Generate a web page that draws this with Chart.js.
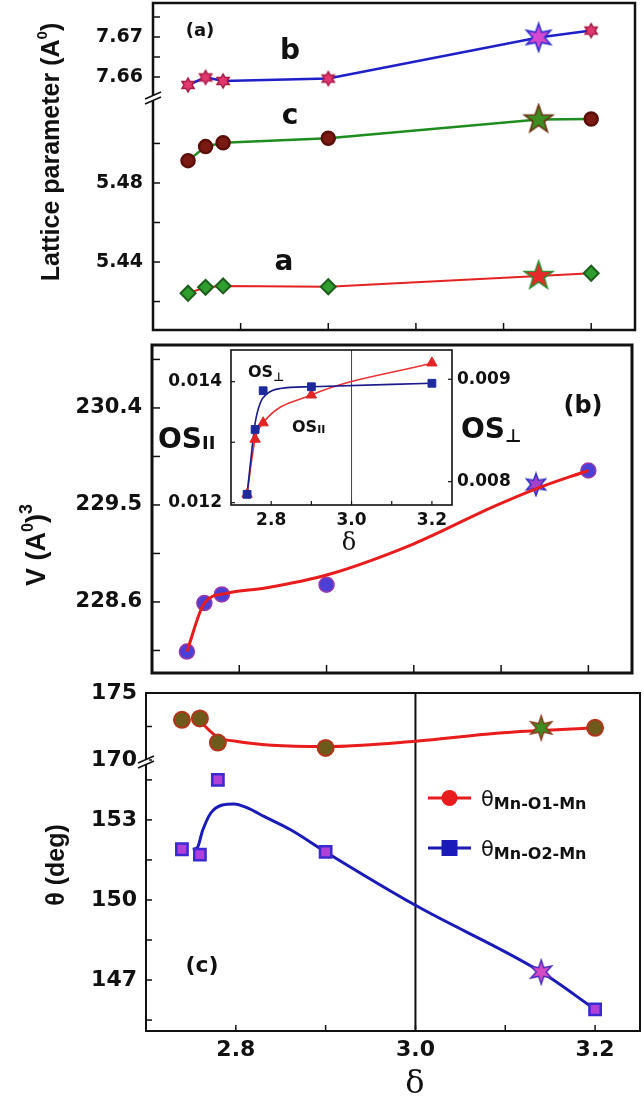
<!DOCTYPE html>
<html>
<head>
<meta charset="utf-8">
<script src="https://cdn.jsdelivr.net/npm/chart.js@4.4.1/dist/chart.umd.min.js"></script>
<style>
  body { margin: 0; background: #fff; }
  #wrap { position: relative; width: 644px; height: 1100px; overflow: hidden; background: #fff; }
  canvas { position: absolute; }
</style>
</head>
<body>
<div id="wrap">
  <canvas id="panelA" width="644" height="338" style="left:0;top:0"></canvas>
  <canvas id="panelB" width="644" height="352" style="left:0;top:338px"></canvas>
  <canvas id="inset" width="390" height="225" style="left:150px;top:340px"></canvas>
  <canvas id="panelC" width="644" height="424" style="left:0;top:676px"></canvas>
</div>
<script>
// ---- values ----
const delta = [2.74, 2.76, 2.78, 2.90, 3.14, 3.20];

// (a) lattice parameters
const latB = [7.6580, 7.6599, 7.6590, 7.6596, 7.6699, 7.6716];
const latC = [5.4913, 5.4984, 5.5004, 5.5026, 5.5121, 5.5124];
const latA = [5.4242, 5.4272, 5.4279, 5.4275, 5.4329, 5.4343];

// (b) volume + fitted curve
const vol = [228.14, 228.59, 228.67, 228.76, 229.69, 229.82];
const volFitX = [2.74, 2.76, 2.785, 2.83, 2.90, 3.00, 3.09, 3.14, 3.20];
const volFitY = [228.14, 228.59, 228.68, 228.73, 228.85, 229.14, 229.48, 229.65, 229.82];

// inset of (b)
const insX = [2.74, 2.76, 2.78, 2.90, 3.20];
const osPar = [0.01214, 0.01305, 0.01332, 0.01378, 0.01431];
const osPerp = [0.007876, 0.00851, 0.008888, 0.008927, 0.008961];
const osPerpFitX = [2.74, 2.752, 2.76, 2.773, 2.79, 2.823, 2.90, 3.20];
const osPerpFitY = [0.007876, 0.00831, 0.00857, 0.00877, 0.00886, 0.00891, 0.008927, 0.008961];

// (c) Mn-O-Mn angles + fitted curves
const thO1 = [173.0, 173.1, 171.3, 170.9, 172.4, 172.4];
const thO1FitX = [2.76, 2.78, 2.80, 2.84, 2.90, 3.00, 3.09, 3.14, 3.20];
const thO1FitY = [172.9, 171.7, 171.4, 171.1, 171.0, 171.4, 172.0, 172.2, 172.4];
const thO2 = [151.9, 151.7, 154.5, 151.8, 147.3, 145.9];
const thO2FitX = [2.752, 2.757, 2.763, 2.772, 2.785, 2.798, 2.813, 2.832, 2.861, 2.90, 3.00, 3.14, 3.20];
const thO2FitY = [151.9, 151.95, 152.6, 153.25, 153.56, 153.6, 153.45, 153.12, 152.63, 151.8, 149.8, 147.3, 145.9];

// ticks
const xTicks = [2.8, 2.9, 3.0, 3.1, 3.2];
const xTickLabels = ['2.8', '', '3.0', '', '3.2'];
const latUpTicks = [7.66, 7.665, 7.67, 7.675];
const latUpLabels = ['7.66', '', '7.67', ''];
const latLowTicks = [5.42, 5.44, 5.46, 5.48, 5.50];
const latLowLabels = ['', '5.44', '', '5.48', ''];
const volTicks = [228.15, 228.6, 229.05, 229.5, 229.95, 230.4, 230.85];
const volLabels = ['', '228.6', '', '229.5', '', '230.4', ''];
const osParTicks = [0.012, 0.013, 0.014];
const osParLabels = ['0.012', '', '0.014'];
const osPerpTicks = [0.008, 0.009];
const osPerpLabels = ['0.008', '0.009'];
const thUpTicks = [170, 172.5, 175];
const thUpLabels = ['170', '', '175'];
const thLowTicks = [145.5, 147, 148.5, 150, 151.5, 153, 154.5];
const thLowLabels = ['', '147', '', '150', '', '153', ''];

const pts = (xs, ys) => xs.map((x, i) => ({x: x, y: ys[i]}));
const F = (size, fam, bold) => (bold === false ? '' : 'bold ') + size + 'px "' + (fam || 'DejaVu Sans') + '"';

function starMarker(n, r1, r2, fill, stroke) {
  const c = document.createElement('canvas');
  const s = Math.ceil(r1 * 2 + 4);
  c.width = c.height = s;
  const g = c.getContext('2d');
  g.translate(s / 2, s / 2);
  g.beginPath();
  for (let i = 0; i < 2 * n; i++) {
    const r = i % 2 ? r2 : r1;
    const a = -Math.PI / 2 + i * Math.PI / n;
    g.lineTo(r * Math.cos(a), r * Math.sin(a));
  }
  g.closePath();
  g.fillStyle = fill; g.fill();
  g.lineWidth = 1.5; g.strokeStyle = stroke; g.stroke();
  return c;
}

function drawRich(ctx, it) {
  ctx.save();
  ctx.translate(it.x, it.y);
  if (it.rot) ctx.rotate(it.rot);
  ctx.textBaseline = it.baseline || 'alphabetic';
  ctx.fillStyle = it.color || '#111';
  let w = 0;
  it.parts.forEach(p => { ctx.font = p.font; w += ctx.measureText(p.t).width; });
  let x = it.align === 'center' ? -w / 2 : 0;
  it.parts.forEach(p => {
    ctx.font = p.font;
    ctx.fillText(p.t, x, p.dy || 0);
    x += ctx.measureText(p.t).width;
  });
  ctx.restore();
}

// frame, inward ticks, axis breaks, vertical marker line, labels and legend
const decor = {
  id: 'decor',
  beforeDatasetsDraw(chart, args, o) {
    if (!o.vline) return;
    const ctx = chart.ctx, a = chart.chartArea;
    const x = chart.scales.x.getPixelForValue(o.vline.value);
    ctx.save();
    ctx.strokeStyle = o.vline.color; ctx.lineWidth = o.vline.width;
    ctx.beginPath(); ctx.moveTo(x, a.top); ctx.lineTo(x, a.bottom); ctx.stroke();
    ctx.restore();
  },
  afterDraw(chart, args, o) {
    const ctx = chart.ctx, a = chart.chartArea;
    ctx.save();
    ctx.strokeStyle = '#111';
    ctx.lineWidth = o.tickWidth || 1.5;
    (o.tickAxes || []).forEach(id => {
      const s = chart.scales[id];
      s.ticks.forEach(t => {
        const p = s.getPixelForValue(t.value);
        ctx.beginPath();
        if (s.isHorizontal()) { ctx.moveTo(p, a.bottom); ctx.lineTo(p, a.bottom - o.tickLen); }
        else if (s.options.position === 'left') { ctx.moveTo(a.left, p); ctx.lineTo(a.left + o.tickLen, p); }
        else { ctx.moveTo(a.right, p); ctx.lineTo(a.right - o.tickLen, p); }
        ctx.stroke();
      });
    });
    ctx.lineWidth = o.frameWidth;
    ctx.strokeRect(a.left, a.top, a.right - a.left, a.bottom - a.top);
    (o.breaks || []).forEach(id => {
      const y = chart.scales[id].bottom, x = a.left;
      ctx.fillStyle = '#fff';
      ctx.fillRect(x - 3, y - 3, 6, 6);
      ctx.lineWidth = 1.6;
      ctx.beginPath();
      ctx.moveTo(x - 8, y + 1); ctx.lineTo(x + 8, y - 6);
      ctx.moveTo(x - 8, y + 6); ctx.lineTo(x + 8, y - 1);
      ctx.stroke();
    });
    (o.legend || []).forEach(l => {
      ctx.strokeStyle = l.color; ctx.fillStyle = l.color; ctx.lineWidth = 3;
      ctx.beginPath(); ctx.moveTo(l.x1, l.y); ctx.lineTo(l.x2, l.y); ctx.stroke();
      const cx = (l.x1 + l.x2) / 2;
      ctx.beginPath();
      if (l.marker === 'circle') ctx.arc(cx, l.y, 8, 0, Math.PI * 2);
      else ctx.rect(cx - 8, l.y - 8, 16, 16);
      ctx.fill();
      drawRich(ctx, l.text);
    });
    ctx.restore();
    (o.texts || []).forEach(t => drawRich(ctx, t));
  }
};

function xAxis(o) {
  return {
    type: 'linear', min: 2.70, max: 3.25,
    grid: {display: false, drawTicks: false}, border: {display: false},
    afterBuildTicks: s => { s.ticks = xTicks.map(v => ({value: v})); },
    afterFit: s => { s.height = o.height; s.paddingLeft = 0; s.paddingRight = 0; },
    ticks: {display: o.labels, autoSkip: false, maxRotation: 0, padding: o.pad || 6,
      color: '#111', font: {family: 'DejaVu Sans', size: o.size || 22, weight: 'bold'},
      callback: (v, i) => xTickLabels[i]}
  };
}

function yAxis(o) {
  return {
    type: 'linear', position: o.position || 'left', min: o.min, max: o.max,
    stack: o.stack, stackWeight: o.weight,
    grid: {display: false, drawTicks: false}, border: {display: false},
    afterBuildTicks: s => { s.ticks = o.ticks.map(v => ({value: v})); },
    afterFit: s => { s.width = o.width; s.paddingTop = 0; s.paddingBottom = 0; },
    ticks: {autoSkip: false, padding: o.pad, color: '#111',
      font: {family: 'DejaVu Sans', size: o.size, weight: 'bold'},
      callback: (v, i) => o.labels[i]}
  };
}

const common = {
  responsive: false, animation: false,
  plugins: {legend: {display: false}, tooltip: {enabled: false}}
};
function layoutPad(p) { return {autoPadding: false, padding: p}; }

// ---------- panel (a) ----------
const pinkMark = starMarker(6, 7, 4, '#e2386e', '#a81a48');
const bStar = starMarker(6, 14, 6, '#d449cf', '#2a2ad0');
const cStar = starMarker(5, 15, 6, '#3c8c22', '#6a2c0c');
const aStar = starMarker(5, 15, 6, '#e42a2a', '#2a8a2a');

new Chart(document.getElementById('panelA'), {
  type: 'scatter',
  data: {datasets: [
    {data: pts(delta, latB), yAxisID: 'yUp', showLine: true, borderColor: '#1f1fc8', borderWidth: 2.5,
     pointStyle: [pinkMark, pinkMark, pinkMark, pinkMark, bStar, pinkMark]},
    {data: pts(delta, latC), yAxisID: 'yLow', showLine: true, borderColor: '#1e8c1e', borderWidth: 2.5,
     pointStyle: ['circle', 'circle', 'circle', 'circle', cStar, 'circle'], pointRadius: 6.5,
     backgroundColor: '#7b1a12', pointBorderColor: '#5a0f0a'},
    {data: pts(delta, latA), yAxisID: 'yLow', showLine: true, borderColor: '#e52222', borderWidth: 2,
     pointStyle: ['rectRot', 'rectRot', 'rectRot', 'rectRot', aStar, 'rectRot'], pointRadius: 7.5,
     backgroundColor: '#2f9e2f', pointBorderColor: '#1d5e1d'}
  ]},
  options: Object.assign({}, common, {
    layout: layoutPad({top: 3, right: 9, left: 0, bottom: 0}),
    plugins: Object.assign({}, common.plugins, {decor: {
      frameWidth: 2.5, tickLen: 7, tickAxes: ['x', 'yUp', 'yLow'], breaks: ['yUp'],
      texts: [
        {x: 200, y: 31, align: 'center', baseline: 'middle', parts: [{t: '(a)', font: F(18)}]},
        {x: 290, y: 52, align: 'center', baseline: 'middle', parts: [{t: 'b', font: F(28)}]},
        {x: 290, y: 117, align: 'center', baseline: 'middle', parts: [{t: 'c', font: F(28)}]},
        {x: 284, y: 263, align: 'center', baseline: 'middle', parts: [{t: 'a', font: F(28)}]},
        {x: 52, y: 152, rot: -Math.PI / 2, align: 'center', baseline: 'middle',
         parts: [{t: 'Lattice parameter (A', font: F(25, 'Liberation Sans')},
                 {t: '0', font: F(15, 'Liberation Sans'), dy: -9},
                 {t: ')', font: F(25, 'Liberation Sans')}]}
      ]}}),
    scales: {
      x: xAxis({height: 8, labels: false}),
      yLow: yAxis({min: 5.4056, max: 5.5230, ticks: latLowTicks, labels: latLowLabels, stack: 'lat', weight: 232, width: 153, pad: 10, size: 19}),
      yUp: yAxis({min: 7.65475, max: 7.6785, ticks: latUpTicks, labels: latUpLabels, stack: 'lat', weight: 95, width: 153, pad: 10, size: 19})
    }
  }),
  plugins: [decor]
});

// ---------- panel (b) ----------
const vStar = starMarker(6, 11, 5, '#a642c8', '#3030c8');
new Chart(document.getElementById('panelB'), {
  type: 'scatter',
  data: {datasets: [
    {data: pts(volFitX, volFitY), showLine: true, pointRadius: 0, borderColor: '#e81c1c', borderWidth: 3,
     cubicInterpolationMode: 'monotone'},
    {data: pts(delta, vol), pointStyle: ['circle', 'circle', 'circle', 'circle', vStar, 'circle'], pointRadius: 7.5,
     backgroundColor: '#4b3fd6', pointBorderColor: '#9a3aa8', pointBorderWidth: 1.5}
  ]},
  options: Object.assign({}, common, {
    layout: layoutPad({top: 7, right: 12, left: 0, bottom: 0}),
    plugins: Object.assign({}, common.plugins, {decor: {
      frameWidth: 3, tickLen: 8, tickAxes: ['x', 'y'],
      texts: [
        {x: 583, y: 69, align: 'center', baseline: 'middle', parts: [{t: '(b)', font: F(24)}]},
        {x: 158, y: 110, parts: [{t: 'OS', font: F(28)}, {t: 'II', font: F(18), dy: 1}]},
        {x: 461, y: 100, parts: [{t: 'OS', font: F(28)}, {t: '\u22A5', font: F(18), dy: 4}]},
        {x: 38, y: 207, rot: -Math.PI / 2, align: 'center', baseline: 'middle',
         parts: [{t: 'V (A', font: F(27, 'Liberation Sans')},
                 {t: '0', font: F(16, 'Liberation Sans'), dy: -9},
                 {t: ')', font: F(27, 'Liberation Sans')},
                 {t: '3', font: F(18, 'Liberation Sans'), dy: -11}]}
      ]}}),
    scales: {
      x: xAxis({height: 17, labels: false}),
      y: yAxis({min: 227.941, max: 230.984, ticks: volTicks, labels: volLabels, width: 152, pad: 10, size: 21})
    }
  }),
  plugins: [decor]
});

// ---------- inset of (b) ----------
new Chart(document.getElementById('inset'), {
  type: 'scatter',
  data: {datasets: [
    {data: pts(insX, osPerp), yAxisID: 'yR', pointStyle: 'rect', pointRadius: 5.5,
     backgroundColor: '#1c2a9e', pointBorderColor: '#1c2a9e'},
    {data: pts(insX, osPar), yAxisID: 'yL', pointStyle: 'triangle', pointRadius: 6,
     backgroundColor: '#e22424', pointBorderColor: '#e22424'},
    {data: pts(osPerpFitX, osPerpFitY), yAxisID: 'yR', showLine: true, pointRadius: 0,
     borderColor: '#1a1a8c', borderWidth: 1.6, cubicInterpolationMode: 'monotone'},
    {data: pts(insX, osPar), yAxisID: 'yL', showLine: true, pointRadius: 0,
     borderColor: '#e83434', borderWidth: 1.6, cubicInterpolationMode: 'monotone'}
  ]},
  options: Object.assign({}, common, {
    layout: layoutPad({top: 10, right: 0, left: 0, bottom: 0}),
    plugins: Object.assign({}, common.plugins, {decor: {
      frameWidth: 1.6, tickLen: 4, tickWidth: 1.2, tickAxes: ['x', 'yL', 'yR'],
      vline: {value: 3.0, color: '#444', width: 1},
      texts: [
        {x: 98, y: 37, parts: [{t: 'OS', font: F(16)}, {t: '\u22A5', font: F(12), dy: 4}]},
        {x: 142, y: 92, parts: [{t: 'OS', font: F(16)}, {t: 'II', font: F(11), dy: 1}]},
        {x: 199, y: 204, align: 'center', baseline: 'middle', parts: [{t: '\u03B4', font: F(24, 'DejaVu Serif', false)}]}
      ]}}),
    scales: {
      x: xAxis({height: 60, labels: true, pad: 5, size: 17}),
      yL: yAxis({min: 0.011962, max: 0.014524, ticks: osParTicks, labels: osParLabels, width: 81, pad: 9, size: 17}),
      yR: yAxis({position: 'right', min: 0.007772, max: 0.009286, ticks: osPerpTicks, labels: osPerpLabels, width: 88, pad: 5, size: 17})
    }
  }),
  plugins: [decor]
});

// ---------- panel (c) ----------
const t1Star = starMarker(6, 12, 5, '#3c8c22', '#8a3a1a');
const t2Star = starMarker(6, 12, 5, '#d64ac4', '#4a2ac0');
new Chart(document.getElementById('panelC'), {
  type: 'scatter',
  data: {datasets: [
    {data: pts(delta, thO1), yAxisID: 'yUp', pointStyle: ['circle', 'circle', 'circle', 'circle', t1Star, 'circle'],
     pointRadius: 8, backgroundColor: '#6e5a1a', pointBorderColor: '#b2361c', pointBorderWidth: 2},
    {data: pts(delta, thO2), yAxisID: 'yLow', pointStyle: ['rect', 'rect', 'rect', 'rect', t2Star, 'rect'],
     pointRadius: 8, backgroundColor: '#b040d8', pointBorderColor: '#3a2ad0', pointBorderWidth: 2.5},
    {data: pts(thO1FitX, thO1FitY), yAxisID: 'yUp', showLine: true, pointRadius: 0,
     borderColor: '#e81c1c', borderWidth: 3, cubicInterpolationMode: 'monotone'},
    {data: pts(thO2FitX, thO2FitY), yAxisID: 'yLow', showLine: true, pointRadius: 0,
     borderColor: '#1a1ab8', borderWidth: 3, cubicInterpolationMode: 'monotone'}
  ]},
  options: Object.assign({}, common, {
    layout: layoutPad({top: 17, right: 4, left: 0, bottom: 0}),
    plugins: Object.assign({}, common.plugins, {decor: {
      frameWidth: 2, tickLen: 6, tickAxes: ['x', 'yUp', 'yLow'], breaks: ['yUp'],
      vline: {value: 3.0, color: '#111', width: 2},
      texts: [
        {x: 202, y: 290, align: 'center', baseline: 'middle', parts: [{t: '(c)', font: F(22)}]},
        {x: 415, y: 409, align: 'center', baseline: 'middle', parts: [{t: '\u03B4', font: F(32, 'DejaVu Serif', false)}]},
        {x: 57, y: 189, rot: -Math.PI / 2, align: 'center', baseline: 'middle',
         parts: [{t: '\u03B8 (deg)', font: F(25, 'Liberation Sans')}]}
      ],
      legend: [
        {x1: 428, x2: 471, y: 122, color: '#e81c1c', marker: 'circle',
         text: {x: 481, y: 130, parts: [{t: '\u03B8', font: F(21, 'DejaVu Sans', false)}, {t: 'Mn-O1-Mn', font: F(16), dy: 3}]}},
        {x1: 428, x2: 471, y: 172, color: '#1a1ab8', marker: 'rect',
         text: {x: 481, y: 180, parts: [{t: '\u03B8', font: F(21, 'DejaVu Sans', false)}, {t: 'Mn-O2-Mn', font: F(16), dy: 3}]}}
      ]}}),
    scales: {
      x: xAxis({height: 69, labels: true, pad: 6, size: 22}),
      yLow: yAxis({min: 145.09, max: 155.17, ticks: thLowTicks, labels: thLowLabels, stack: 'th', weight: 269, width: 146, pad: 9, size: 22}),
      yUp: yAxis({min: 169.85, max: 175.0, ticks: thUpTicks, labels: thUpLabels, stack: 'th', weight: 69, width: 146, pad: 9, size: 22})
    }
  }),
  plugins: [decor]
});
</script>
</body>
</html>
